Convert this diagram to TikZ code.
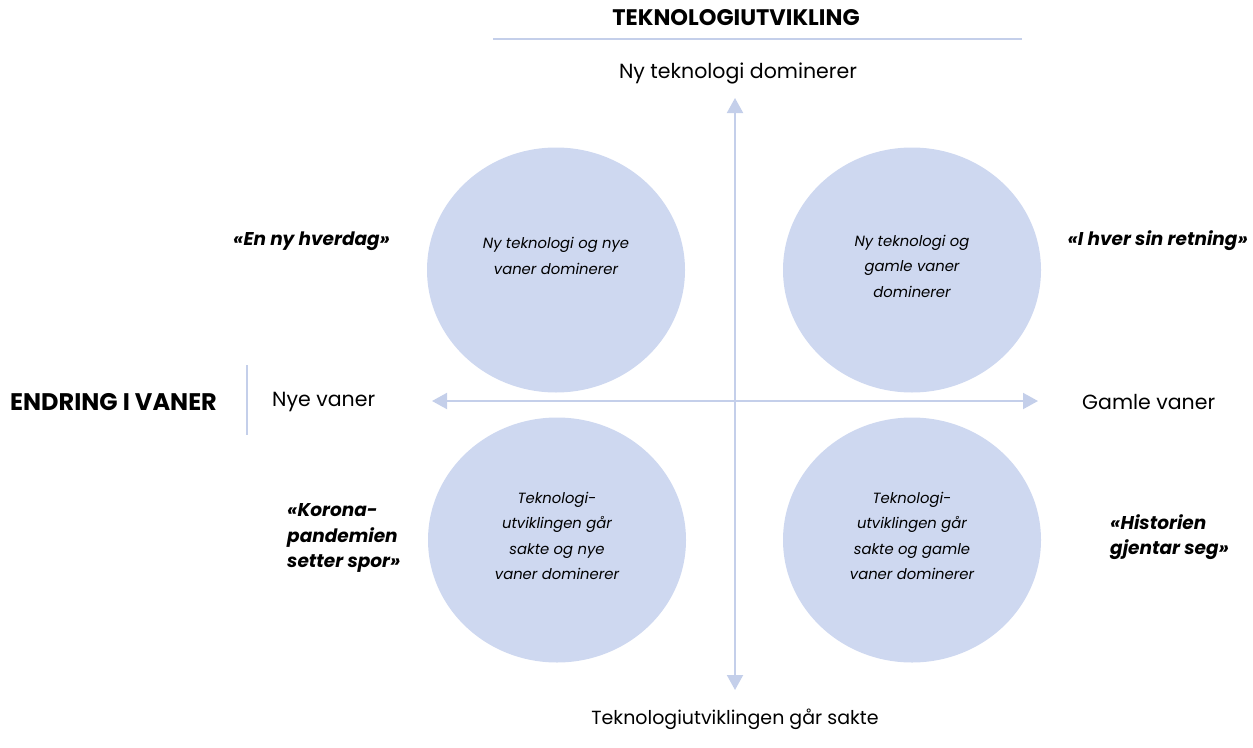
\documentclass[tikz,border=0pt]{standalone}
\usepackage{fontspec}
\setmainfont{Poppins}
\usetikzlibrary{arrows.meta,shapes.geometric}
\definecolor{circ}{RGB}{206,216,240}
\definecolor{axis}{RGB}{196,207,234}
\begin{document}
\begin{tikzpicture}[x=1pt,y=-1pt,
  lbl/.style={font=\fontsize{20.5}{24}\selectfont, inner sep=0pt},
  head/.style={font=\fontsize{22.5}{26}\selectfont\bfseries, inner sep=0pt},
  quote/.style={font=\fontsize{18.5}{25.5}\selectfont\bfseries\itshape, inner sep=0pt, align=left},
  bubble/.style={ellipse, fill=circ, minimum width=258pt, minimum height=245pt, inner sep=0pt},
  btext/.style={align=center, inner sep=0pt, font=\fontsize{14.8}{25.5}\selectfont\itshape},
  ax/.style={draw=axis, line width=2pt, {Triangle[width=16pt,length=15pt]}-{Triangle[width=16pt,length=15pt]}},
  sep/.style={draw=axis, line width=2pt}]
\useasboundingbox (0,0) rectangle (1253,747);
% circles
\node[bubble] (tl) at (556,270) {};
\node[bubble] (tr) at (912,270) {};
\node[bubble] (bl) at (557,540) {};
\node[bubble] (br) at (912,540) {};
\node[btext] (tlt) at (556,256) {Ny teknologi og nye\\vaner dominerer};
\node[btext] (trt) at (912,266) {Ny teknologi og\\gamle vaner\\dominerer};
\node[btext] (blt) at (557,536) {Teknologi-\\utviklingen går\\sakte og nye\\vaner dominerer};
\node[btext] (brt) at (912,536) {Teknologi-\\utviklingen går\\sakte og gamle\\vaner dominerer};
% axes
\coordinate (vtop) at (735,98);
\coordinate (vbot) at (735,690);
\coordinate (hl) at (432,401);
\coordinate (hr) at (1038,401);
\draw[ax] (vtop) -- (vbot);
\draw[ax] (hl) -- (hr);
% top header
\node[head] (th) at (736,18) {TEKNOLOGIUTVIKLING};
\coordinate (tla) at (493,39);
\coordinate (tlb) at (1022,39);
\draw[sep] (tla) -- (tlb);
\node[lbl] (top) at (738,73) {Ny teknologi dominerer};
\node[lbl, font=\fontsize{19}{24}\selectfont] (bot) at (735,719) {Teknologiutviklingen går sakte};
% left header
\node[head, anchor=west, font=\fontsize{24}{28}\selectfont\bfseries] (lh) at (10,402) {ENDRING I VANER};
\coordinate (sla) at (247,365);
\coordinate (slb) at (247,435);
\draw[sep] (sla) -- (slb);
\node[lbl, anchor=west] (nye) at (272,402) {Nye vaner};
\node[lbl, anchor=west] (gamle) at (1082,402) {Gamle vaner};
% quotes
\node[quote, anchor=west] (q1) at (233,241) {«En ny hverdag»};
\node[quote, anchor=east] (q2) at (1248,241) {«I hver sin retning»};
\node[quote, anchor=west] (q3) at (287,538) {«Korona-\\pandemien\\setter spor»};
\node[quote, anchor=west] (q4) at (1110,537) {«Historien\\gjentar seg»};
\end{tikzpicture}
\end{document}
